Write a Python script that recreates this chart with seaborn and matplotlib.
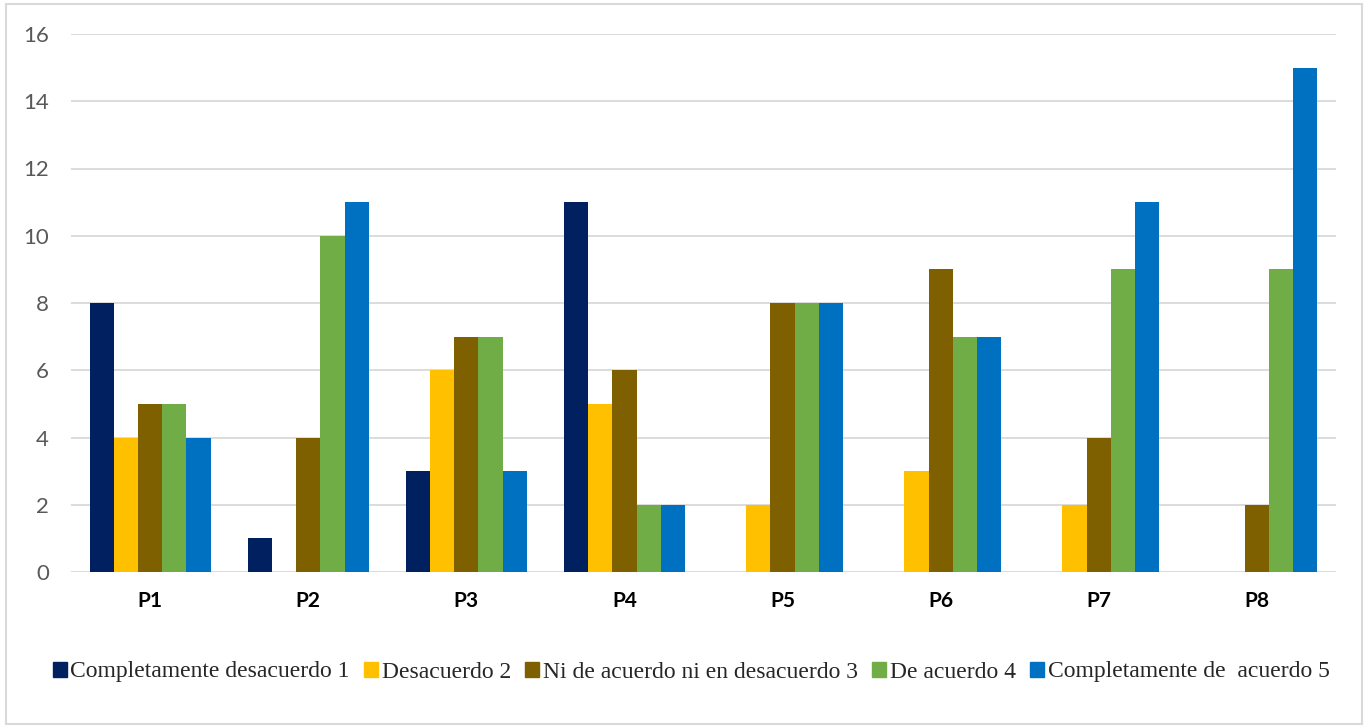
import matplotlib
matplotlib.use("Agg")
import matplotlib.pyplot as plt
import seaborn as sns
import pandas as pd
from matplotlib.patches import Rectangle

categories = ["P1", "P2", "P3", "P4", "P5", "P6", "P7", "P8"]
series = ["Completamente desacuerdo 1", "Desacuerdo 2",
          "Ni de acuerdo ni en desacuerdo 3", "De acuerdo 4",
          "Completamente de  acuerdo 5"]
v1 = [8, 1, 3, 11, 0, 0, 0, 0]
v2 = [4, 0, 6, 5, 2, 3, 2, 0]
v3 = [5, 4, 7, 6, 8, 9, 4, 2]
v4 = [5, 10, 7, 2, 8, 7, 9, 9]
v5 = [4, 11, 3, 2, 8, 7, 11, 15]
colors = ["#002060", "#FFC000", "#7F6000", "#70AD47", "#0070C0"]

rows = []
for s, vals in zip(series, [v1, v2, v3, v4, v5]):
    for c, v in zip(categories, vals):
        rows.append({"cat": c, "serie": s, "val": v})
df = pd.DataFrame(rows)

sns.set_theme(style="white")
fig = plt.figure(figsize=(13.66, 7.27), dpi=100)
ax = fig.add_axes([71/1366, 1-572/727, (1336-71)/1366, (572-34)/727])

sns.barplot(data=df, x="cat", y="val", hue="serie", order=categories,
            hue_order=series, palette=colors, width=0.766, ax=ax,
            saturation=1, linewidth=0, legend=True, errorbar=None)

ax.set_xlim(-0.5, 7.5)
ax.set_ylim(0, 16)
ax.set_yticks(range(0, 17, 2))
ax.yaxis.grid(True, color="#D9D9D9", linewidth=1.3)
ax.set_axisbelow(True)
for sp in ax.spines.values():
    sp.set_visible(False)
ax.set_xlabel("")
ax.set_ylabel("")
ax.tick_params(axis="both", length=0)
for lab in ax.get_yticklabels():
    lab.set_fontfamily("Lato")
    lab.set_fontsize(16)
    lab.set_color("#595959")
ax.tick_params(axis="y", pad=16)
ax.tick_params(axis="x", pad=14)
for lab in ax.get_xticklabels():
    lab.set_fontfamily("Lato")
    lab.set_fontsize(15)
    lab.set_fontweight("bold")
    lab.set_color("black")

ax.get_legend().remove()
handles = [Rectangle((0, 0), 1, 1, color=c) for c in colors]
fig.legend(handles, series, loc="center", bbox_to_anchor=(691/1366, 1-672/727),
           ncol=5, frameon=False, prop={"family": "Liberation Serif", "size": 17},
           handlelength=0.6, handleheight=0.6, handletextpad=0.15,
           columnspacing=0.6, borderaxespad=0)

fig.patches.append(Rectangle((6/1366, 3/727), 1356/1366, 720/727, transform=fig.transFigure,
                             fill=False, edgecolor="#D9D9D9", linewidth=1.5))

fig.savefig("out.png", dpi=100)
